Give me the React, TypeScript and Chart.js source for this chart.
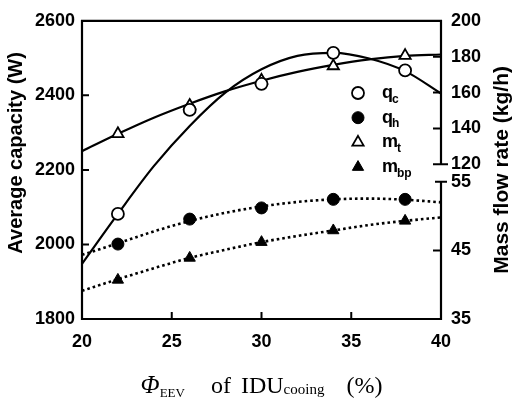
import React, { useEffect, useRef } from "react";
import { Chart, registerables } from "chart.js";

Chart.register(...registerables);

// ---- data ----
const xPoints = [22, 26, 30, 34, 38];
const qcValues = [2082, 2361, 2431, 2514, 2467];
const qhValues = [2001, 2068, 2098, 2121, 2121];
const mtValues = [137, 152.8, 166.8, 174.8, 180.6];
const mbpValues = [40.7, 43.9, 46.2, 47.9, 49.3];

// fitted curves
const xCurve = [20, 22, 24, 26, 28, 30, 32, 34, 36, 38, 40];
const qcCurve = [1948, 2082, 2210, 2318, 2408, 2470, 2506, 2514, 2499, 2465, 2405];
const qhCurve = [1972, 2003, 2035, 2063, 2085, 2102, 2114, 2121, 2123, 2120, 2113];
const mtCurve = [127.3, 137, 146, 153.8, 160.8, 166.6, 171.5, 175.4, 178.5, 180.5, 181.2];
const mbpCurve = [39.1, 40.8, 42.4, 43.9, 45.1, 46.2, 47.1, 47.9, 48.7, 49.3, 49.8];

// tick labels
const xTicks = [20, 25, 30, 35, 40];
const leftTicks = [1800, 2000, 2200, 2400, 2600];
const upperTicks = [120, 140, 160, 180, 200];
const lowerTicks = [35, 45, 55];

const leftTitle = "Average capacity (W)";
const rightTitle = "Mass flow rate (kg/h)";
const legendMain = ["q", "q", "m", "m"];
const legendSub = ["c", "h", "t", "bp"];
const legendStyles = ["circle", "circle", "triangle", "triangle"];
const legendFilled = [false, true, false, true];

const SANS = '"Liberation Sans", Arial, sans-serif';
const SERIF = '"Liberation Serif", "Times New Roman", serif';

const pts = (xs: number[], ys: number[]) => xs.map((x, i) => ({ x, y: ys[i] }));

function curveDs(ys: number[], axis: string, dotted: boolean) {
  return {
    data: pts(xCurve, ys),
    yAxisID: axis,
    borderColor: "#000",
    borderWidth: dotted ? 2.6 : 2.2,
    borderDash: dotted ? [2.6, 3] : [],
    pointRadius: 0,
    cubicInterpolationMode: "monotone",
    fill: false,
    order: 2,
  };
}

function markerDs(ys: number[], axis: string, style: string, filled: boolean) {
  return {
    data: pts(xPoints, ys),
    yAxisID: axis,
    showLine: false,
    borderColor: "#000",
    backgroundColor: filled ? "#000" : "#fff",
    pointStyle: style,
    pointRadius: style === "triangle" ? 6.5 : 6,
    pointBackgroundColor: filled ? "#000" : "#fff",
    pointBorderColor: "#000",
    pointBorderWidth: filled ? 1 : 1.8,
    order: 1,
  };
}

const framePlugin = {
  id: "frame",
  afterDatasetsDraw(chart: any) {
    const { ctx, chartArea: ca, scales } = chart;
    const x = scales.x;
    const y = scales.y;
    const yU = scales.yU;
    const yL = scales.yL;
    ctx.save();
    ctx.strokeStyle = "#000";
    ctx.lineWidth = 2.2;
    ctx.lineJoin = "miter";
    ctx.lineCap = "butt";
    ctx.beginPath();
    ctx.moveTo(ca.right, yU.getPixelForValue(upperTicks[0]));
    ctx.lineTo(ca.right, ca.top);
    ctx.lineTo(ca.left, ca.top);
    ctx.lineTo(ca.left, ca.bottom);
    ctx.lineTo(ca.right, ca.bottom);
    ctx.lineTo(ca.right, yL.getPixelForValue(lowerTicks[lowerTicks.length - 1]));
    ctx.stroke();

    ctx.lineWidth = 2;
    ctx.beginPath();
    leftTicks.slice(1, -1).forEach((v) => {
      const py = y.getPixelForValue(v);
      ctx.moveTo(ca.left, py);
      ctx.lineTo(ca.left + 7, py);
    });
    xTicks.slice(1, -1).forEach((v) => {
      const px = x.getPixelForValue(v);
      ctx.moveTo(px, ca.bottom);
      ctx.lineTo(px, ca.bottom - 7);
    });
    upperTicks.slice(1, -1).forEach((v) => {
      const py = yU.getPixelForValue(v);
      ctx.moveTo(ca.right - 8, py);
      ctx.lineTo(ca.right, py);
    });
    lowerTicks.slice(1, -1).forEach((v) => {
      const py = yL.getPixelForValue(v);
      ctx.moveTo(ca.right - 8, py);
      ctx.lineTo(ca.right, py);
    });
    const b1 = yU.getPixelForValue(upperTicks[0]);
    ctx.moveTo(ca.right - 8, b1);
    ctx.lineTo(ca.right + 7, b1);
    const b2 = yL.getPixelForValue(lowerTicks[lowerTicks.length - 1]);
    ctx.moveTo(ca.right - 6, b2);
    ctx.lineTo(ca.right + 6, b2);
    ctx.stroke();
    ctx.restore();
  },
  afterDraw(chart: any) {
    const { ctx, chartArea: ca } = chart;
    ctx.save();
    ctx.fillStyle = "#000";
    // axis titles
    ctx.font = `bold 20px ${SANS}`;
    ctx.textAlign = "center";
    ctx.textBaseline = "middle";
    ctx.save();
    ctx.translate(16.5, (ca.top + ca.bottom) / 2 - 17);
    ctx.rotate(-Math.PI / 2);
    ctx.fillText(leftTitle, 0, 0);
    ctx.restore();
    ctx.font = `bold 21px ${SANS}`;
    ctx.save();
    ctx.translate(502, (ca.top + ca.bottom) / 2);
    ctx.rotate(-Math.PI / 2);
    ctx.fillText(rightTitle, 0, 0);
    ctx.restore();

    // legend
    ctx.textAlign = "left";
    ctx.textBaseline = "alphabetic";
    const lx = 358;
    const ly0 = 93;
    const step = 24.7;
    for (let i = 0; i < legendMain.length; i++) {
      const cy = ly0 + i * step;
      const style = legendStyles[i];
      const r = style === "triangle" ? 6.5 : 6;
      ctx.save();
      ctx.lineWidth = legendFilled[i] ? 1 : 1.8;
      ctx.strokeStyle = "#000";
      ctx.fillStyle = legendFilled[i] ? "#000" : "#fff";
      ctx.beginPath();
      if (style === "circle") {
        ctx.arc(lx, cy, r, 0, Math.PI * 2);
      } else {
        const a = -Math.PI / 2;
        for (let k = 0; k < 3; k++) {
          const ang = a + (k * 2 * Math.PI) / 3;
          const px = lx + Math.cos(ang) * r;
          const py = cy + Math.sin(ang) * r;
          if (k === 0) ctx.moveTo(px, py);
          else ctx.lineTo(px, py);
        }
        ctx.closePath();
      }
      ctx.fill();
      ctx.stroke();
      ctx.restore();
      ctx.font = `bold 18px ${SANS}`;
      ctx.fillText(legendMain[i], 382, cy + 5);
      const w = ctx.measureText(legendMain[i]).width;
      ctx.font = `bold 12px ${SANS}`;
      ctx.fillText(legendSub[i], 382 + w - 1, cy + 9.5);
    }

    // x-axis title
    const tokens = [
      { t: "\u03A6", f: `italic 25px ${SERIF}`, dy: 0, gap: 0 },
      { t: "EEV", f: `13px ${SERIF}`, dy: 4, gap: 26 },
      { t: "of", f: `24px ${SERIF}`, dy: 0, gap: 10 },
      { t: "IDU", f: `24px ${SERIF}`, dy: 0, gap: 0 },
      { t: "cooing", f: `15px ${SERIF}`, dy: 1, gap: 22 },
      { t: "(%)", f: `24px ${SERIF}`, dy: 0, gap: 0 },
    ];
    let total = 0;
    tokens.forEach((tk) => {
      ctx.font = tk.f;
      total += ctx.measureText(tk.t).width + tk.gap;
    });
    let cx = (ca.left + ca.right) / 2 - total / 2;
    const base = 393;
    tokens.forEach((tk) => {
      ctx.font = tk.f;
      ctx.fillText(tk.t, cx, base + tk.dy);
      cx += ctx.measureText(tk.t).width + tk.gap;
    });
    ctx.restore();
  },
};

const tickFont = { family: SANS, size: 18, weight: "bold" as const };

export default function App() {
  const ref = useRef<HTMLCanvasElement | null>(null);
  useEffect(() => {
    if (!ref.current) return;
    const chart = new Chart(ref.current, {
      type: "line",
      data: {
        datasets: [
          curveDs(qcCurve, "y", false),
          curveDs(mtCurve, "yU", false),
          curveDs(qhCurve, "y", true),
          curveDs(mbpCurve, "yL", true),
          markerDs(qcValues, "y", "circle", false),
          markerDs(qhValues, "y", "circle", true),
          markerDs(mtValues, "yU", "triangle", false),
          markerDs(mbpValues, "yL", "triangle", true),
        ] as any,
      },
      options: {
        animation: false,
        responsive: false,
        events: [],
        layout: { padding: { top: 17, left: 0, right: 0, bottom: 0 } },
        plugins: { legend: { display: false }, tooltip: { enabled: false } },
        scales: {
          x: {
            type: "linear",
            min: 20,
            max: 40,
            afterBuildTicks: (s: any) => {
              s.ticks = xTicks.map((v) => ({ value: v }));
            },
            afterFit: (s: any) => {
              s.height = 401 - 319;
            },
            grid: { display: false, drawTicks: false },
            border: { display: false },
            ticks: { font: tickFont, color: "#000", padding: 12, autoSkip: false, maxRotation: 0, callback: (v: any) => String(v) },
          },
          y: {
            type: "linear",
            position: "left",
            min: 1800,
            max: 2600,
            afterBuildTicks: (s: any) => {
              s.ticks = leftTicks.map((v) => ({ value: v }));
            },
            afterFit: (s: any) => {
              s.width = 82;
            },
            grid: { display: false, drawTicks: false },
            border: { display: false },
            ticks: { font: tickFont, color: "#000", padding: 7, autoSkip: false, callback: (v: any) => String(v) },
          },
          yU: {
            type: "linear",
            position: "right",
            stack: "right",
            stackWeight: 155.5,
            min: 114.4,
            max: 200,
            afterBuildTicks: (s: any) => {
              s.ticks = upperTicks.map((v) => ({ value: v }));
            },
            afterFit: (s: any) => {
              s.width = 514 - 441;
            },
            grid: { display: false, drawTicks: false },
            border: { display: false },
            ticks: { font: tickFont, color: "#000", padding: 10, autoSkip: false, callback: (v: any) => String(v) },
          },
          yL: {
            type: "linear",
            position: "right",
            stack: "right",
            stackWeight: 146.5,
            min: 35,
            max: 56.08,
            afterBuildTicks: (s: any) => {
              s.ticks = lowerTicks.map((v) => ({ value: v }));
            },
            afterFit: (s: any) => {
              s.width = 514 - 441;
            },
            grid: { display: false, drawTicks: false },
            border: { display: false },
            ticks: { font: tickFont, color: "#000", padding: 10, autoSkip: false, callback: (v: any) => String(v) },
          },
        } as any,
      },
      plugins: [framePlugin],
    });
    return () => chart.destroy();
  }, []);
  return (
    <div style={{ position: "absolute", left: 0, top: 0, width: 514, height: 401, background: "#fff" }}>
      <canvas ref={ref} width={514} height={401} style={{ display: "block" }} />
    </div>
  );
}
